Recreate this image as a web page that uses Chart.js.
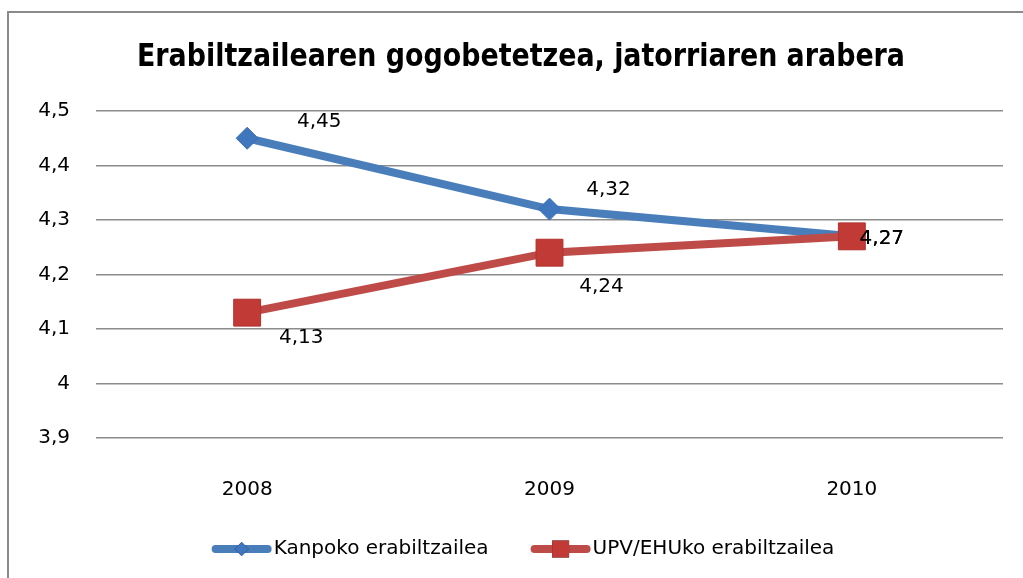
<!DOCTYPE html>
<html>
<head>
<meta charset="utf-8">
<script src="https://cdn.jsdelivr.net/npm/chart.js@4.4.1/dist/chart.umd.min.js"></script>
<style>
  html, body { margin: 0; padding: 0; background: #fff; overflow: hidden; }
  #wrap { position: relative; width: 1023px; height: 578px; overflow: hidden; }
  #frame {
    position: absolute; left: 7px; top: 11px; width: 1100px; height: 700px;
    border: 2px solid #8a8a8a; box-sizing: border-box;
  }
  #chart { position: absolute; left: 0; top: 0; }
</style>
</head>
<body>
<div id="wrap">
  <div id="frame"></div>
  <canvas id="chart" width="1023" height="578"></canvas>
</div>
<script>
// --- Data ---
const years = ['2008', '2009', '2010'];
const kanpoko = [4.45, 4.32, 4.27];
const upvEhu = [4.13, 4.24, 4.27];
const yTicks = [3.9, 4.0, 4.1, 4.2, 4.3, 4.4, 4.5];

const chartTitle = 'Erabiltzailearen gogobetetzea, jatorriaren arabera';
const FONT = '"DejaVu Sans", sans-serif';
const TITLE_FONT = '"Liberation Sans Narrow", "DejaVu Sans Condensed", "DejaVu Sans", sans-serif';

function comma(v, digits) {
  return v.toFixed(digits).replace('.', ',').replace(/,0+$/, '');
}

// title, squeezed to the original width
const titlePlugin = {
  id: 'titleText',
  afterDraw(chart) {
    const ctx = chart.ctx;
    ctx.save();
    ctx.font = 'bold 32px ' + TITLE_FONT;
    ctx.fillStyle = '#000';
    ctx.textBaseline = 'alphabetic';
    const w = ctx.measureText(chartTitle).width;
    const target = 768;
    ctx.translate(521, 66);
    ctx.scale(target / w, 1);
    ctx.textAlign = 'center';
    ctx.fillText(chartTitle, 0, 0);
    ctx.restore();
  }
};

// value labels beside each point
const valueLabels = {
  id: 'valueLabels',
  afterDatasetsDraw(chart, args, opts) {
    const ctx = chart.ctx;
    ctx.save();
    ctx.font = '20px ' + FONT;
    ctx.fillStyle = '#000';
    ctx.textAlign = 'center';
    ctx.textBaseline = 'middle';
    chart.data.datasets.forEach((ds, i) => {
      const meta = chart.getDatasetMeta(i);
      const offs = opts.offsets[i];
      meta.data.forEach((pt, j) => {
        const o = offs[j];
        ctx.fillText(comma(ds.data[j], 2), pt.x + o[0], pt.y + o[1]);
      });
    });
    ctx.restore();
  }
};

// legend: line with the marker on top, then the label
const lineLegend = {
  id: 'lineLegend',
  afterDraw(chart) {
    const ctx = chart.ctx;
    ctx.save();
    ctx.font = '20px ' + FONT;
    ctx.textBaseline = 'middle';
    const lineLen = 60, gap = 2, itemGap = 42, y = 549;
    const items = chart.data.datasets.map(ds => ({
      ds, w: lineLen + gap + ctx.measureText(ds.label).width
    }));
    const total = items.reduce((s, it) => s + it.w, 0) + itemGap * (items.length - 1);
    let x = 523 - total / 2;
    items.forEach(({ ds }) => {
      ctx.strokeStyle = ds.borderColor;
      ctx.lineWidth = 8;
      ctx.lineCap = 'round';
      ctx.beginPath();
      ctx.moveTo(x + 4, y);
      ctx.lineTo(x + lineLen - 4, y);
      ctx.stroke();
      Chart.helpers.drawPoint(ctx, {
        pointStyle: ds.pointStyle,
        radius: ds.pointStyle === 'rect' ? 12 : 7,
        borderWidth: 0
      }, x + lineLen / 2, y);
      ctx.fillStyle = ds.pointBackgroundColor;
      ctx.fill();
      ctx.fillStyle = '#000';
      ctx.textAlign = 'left';
      ctx.fillText(ds.label, x + lineLen + gap, y);
      x += lineLen + gap + ctx.measureText(ds.label).width + itemGap;
    });
    ctx.restore();
  }
};

document.addEventListener('DOMContentLoaded', () => {
  const ctx = document.getElementById('chart').getContext('2d');
  new Chart(ctx, {
    type: 'line',
    data: {
      labels: years,
      datasets: [{
        label: 'Kanpoko erabiltzailea',
        data: kanpoko,
        borderColor: '#4a7ebb',
        borderWidth: 8,
        pointStyle: 'rectRot',
        pointRadius: 11,
        pointBackgroundColor: '#3f76bd',
        pointBorderColor: '#3a6fb3',
        pointBorderWidth: 1,
        order: 1
      }, {
        label: 'UPV/EHUko erabiltzailea',
        data: upvEhu,
        borderColor: '#be4b48',
        borderWidth: 8,
        pointStyle: 'rect',
        pointRadius: 19,
        pointBackgroundColor: '#c23a36',
        pointBorderColor: '#b0302d',
        pointBorderWidth: 1,
        order: 0
      }]
    },
    options: {
      responsive: false,
      animation: false,
      layout: { padding: { top: 111, right: 18, bottom: 0, left: 0 } },
      scales: {
        x: {
          offset: true,
          grid: { display: false },
          border: { display: false },
          ticks: { padding: 32, color: '#000', font: { family: FONT, size: 20 } },
          afterFit: s => { s.height = 140; }
        },
        y: {
          min: 3.9,
          max: 4.5,
          afterBuildTicks: s => { s.ticks = yTicks.map(v => ({ value: v })); },
          grid: { color: '#8c8c8c', lineWidth: 1.6, drawTicks: false },
          border: { display: false },
          ticks: {
            padding: 26,
            color: '#000',
            font: { family: FONT, size: 20 },
            callback: v => comma(v, 1)
          },
          afterFit: s => { s.width = 96; }
        }
      },
      plugins: {
        legend: { display: false },
        title: { display: false },
        tooltip: { enabled: false },
        valueLabels: {
          offsets: [
            [[72, -16], [59, -19], [30, 2]],
            [[54, 25], [52, 34], [30, 2]]
          ]
        }
      }
    },
    plugins: [titlePlugin, valueLabels, lineLegend]
  });
});
</script>
</body>
</html>
